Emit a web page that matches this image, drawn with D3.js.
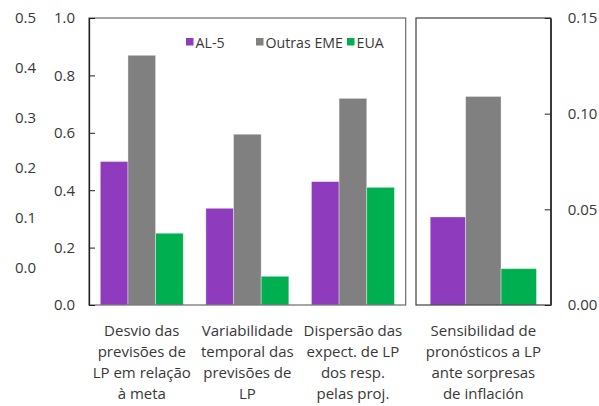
<!DOCTYPE html>
<html><head><meta charset="utf-8">
<script src="https://cdn.jsdelivr.net/npm/d3@7"></script>
<style>
body{margin:0;background:#fff;}
text{font-family:"Open Sans","Noto Sans",sans-serif;fill:#383838;}
</style></head>
<body><svg id="c" width="599" height="406"></svg>
<script>
// ---- data ----
const seriesNames = ["AL-5", "Outras EME", "EUA"];
const seriesColors = ["#8E3BBE", "#808080", "#00B050"];
const leftCategories = [
  ["Desvio das", "previsões de", "LP em relação", "à meta"],
  ["Variabilidade", "temporal das", "previsões de", "LP"],
  ["Dispersão das", "expect. de LP", "dos resp.", "pelas proj."]
];
const rightCategories = [["Sensibilidad de", "pronósticos a LP", "ante sorpresas", "de inflación"]];
const al5Left = [0.50, 0.337, 0.43];
const outrasLeft = [0.87, 0.595, 0.72];
const euaLeft = [0.25, 0.10, 0.41];
const al5Right = [0.046];
const outrasRight = [0.109];
const euaRight = [0.019];
const leftTicks = [0, 0.2, 0.4, 0.6, 0.8, 1.0];
const outerTicks = [0, 0.1, 0.2, 0.3, 0.4, 0.5];
const rightTicks = [0, 0.05, 0.10, 0.15];

const svg = d3.select("#c");
const plotTop = 18, plotBottom = 305;
const L = {x0: 89, x1: 405.7};
const R = {x0: 416, x1: 550.7};
const fs = 15;
const txt = "#383838";

// scales
const yL = d3.scaleLinear().domain([0, 1]).range([plotBottom, plotTop]);
const yR = d3.scaleLinear().domain([0, 0.15]).range([plotBottom, plotTop]);
const yOuter = d3.scaleLinear().domain([0, 0.5]).range([268, 18]);

const xL = d3.scaleBand().domain(d3.range(leftCategories.length)).range([L.x0, L.x1]).paddingInner(0.214).paddingOuter(0.107);
const xR = d3.scaleBand().domain(d3.range(rightCategories.length)).range([R.x0, R.x1]).paddingInner(0.2).paddingOuter(0.107);
const sub = d3.scaleBand().domain(d3.range(3)).range([0, 1]);

function drawBars(xs, ys, data) {
  const g = svg.append("g");
  data.forEach((vals, si) => {
    g.selectAll(null).data(vals).join("rect")
      .attr("x", (d, i) => xs(i) + sub(si) * xs.bandwidth())
      .attr("width", sub.bandwidth() * xs.bandwidth())
      .attr("y", d => ys(d))
      .attr("height", d => ys(0) - ys(d))
      .attr("fill", seriesColors[si])
      .attr("stroke", "rgba(255,255,255,0.45)")
      .attr("stroke-width", 0.8);
  });
}
drawBars(xL, yL, [al5Left, outrasLeft, euaLeft]);
drawBars(xR, yR, [al5Right, outrasRight, euaRight]);

// panel frames
svg.append("rect").attr("x", L.x0).attr("y", plotTop).attr("width", L.x1 - L.x0).attr("height", plotBottom - plotTop)
  .attr("fill", "none").attr("stroke", "#6b6b6b").attr("stroke-width", 1.2);
svg.append("rect").attr("x", R.x0).attr("y", plotTop).attr("width", R.x1 - R.x0).attr("height", plotBottom - plotTop)
  .attr("fill", "none").attr("stroke", "#404040").attr("stroke-width", 1.2);

// left inner axis (ticks inward)
const axL = svg.append("g").attr("transform", `translate(${L.x0},0)`)
  .call(d3.axisLeft(yL).tickValues(leftTicks).tickFormat(d3.format(".1f")).tickSizeInner(-6).tickSizeOuter(0).tickPadding(14));
axL.select(".domain").attr("stroke", "#222").attr("stroke-width", 1.3);
axL.selectAll(".tick line").attr("stroke", "#222");
axL.selectAll("text").attr("font-size", fs).attr("fill", txt).attr("font-family", null);

// outer stray axis
const axO = svg.append("g").attr("transform", `translate(36,0)`)
  .call(d3.axisLeft(yOuter).tickValues(outerTicks).tickFormat(d3.format(".1f")).tickSize(0).tickPadding(0));
axO.select(".domain").remove();
axO.selectAll("text").attr("font-size", fs).attr("fill", txt).attr("font-family", null);

// right axis (ticks inward)
const axR = svg.append("g").attr("transform", `translate(${R.x1},0)`)
  .call(d3.axisRight(yR).tickValues(rightTicks).tickFormat(d3.format(".2f")).tickSizeInner(-6).tickSizeOuter(0).tickPadding(17));
axR.select(".domain").attr("stroke", "#222").attr("stroke-width", 1.3);
axR.selectAll(".tick line").attr("stroke", "#222");
axR.selectAll("text").attr("font-size", fs).attr("fill", txt).attr("font-family", null);

// category labels
function catLabels(xs, cats) {
  cats.forEach((lines, i) => {
    const t = svg.append("text").attr("text-anchor", "middle").attr("font-size", fs)
      .attr("x", xs(i) + xs.bandwidth() / 2).attr("y", 336);
    lines.forEach((ln, j) => t.append("tspan").attr("x", xs(i) + xs.bandwidth() / 2).attr("dy", j ? 21 : 0).text(ln));
  });
}
catLabels(xL, leftCategories);
catLabels(xR, rightCategories);

// legend
const legX = [186, 256, 347];
const lg = svg.append("g");
seriesNames.forEach((n, i) => {
  lg.append("rect").attr("x", legX[i]).attr("y", 38).attr("width", 7.5).attr("height", 7.5).attr("fill", seriesColors[i]);
  lg.append("text").attr("x", legX[i] + 9.5).attr("y", 47.5).attr("font-size", 14.2).text(n);
});
</script></body></html>
